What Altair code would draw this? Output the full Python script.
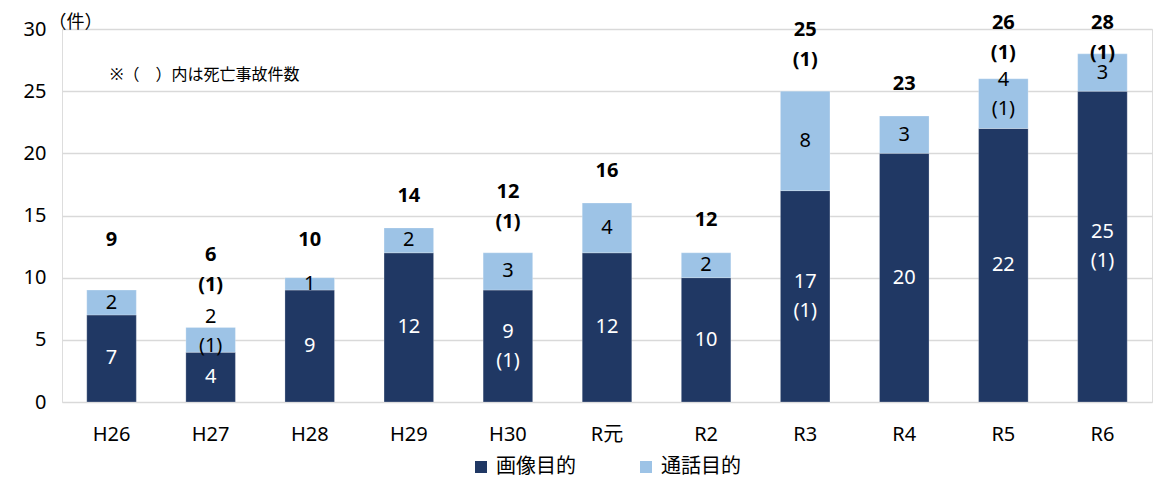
import altair as alt
import pandas as pd

years = ["H26", "H27", "H28", "H29", "H30", "R元", "R2", "R3", "R4", "R5", "R6"]
image_counts = [7, 4, 9, 12, 9, 12, 10, 17, 20, 22, 25]
image_deaths = [0, 0, 0, 0, 1, 0, 0, 1, 0, 0, 1]
call_counts = [2, 2, 1, 2, 3, 4, 2, 8, 3, 4, 3]
call_deaths = [0, 1, 0, 0, 0, 0, 0, 0, 0, 1, 0]
series = ["画像目的", "通話目的"]
colors = ["#203864", "#9DC3E6"]
text_colors = ["#FFFFFF", "#000000"]
note = "※（\u3000）内は死亡事故件数"
unit = "（件）"
FONT = "Noto Sans, Noto Sans CJK JP"
CJK = "Noto Sans CJK JP"
FS = 20

rows = []
for i, y in enumerate(years):
    lower = 0
    for k, (vals, deaths) in enumerate([(image_counts, image_deaths), (call_counts, call_deaths)]):
        v = vals[i]
        rows.append({
            "year": y, "series": series[k], "val": v, "lower": lower, "upper": lower + v,
            "deaths": deaths[i], "num": str(v), "dlabel": f"({deaths[i]})", "ord": k,
        })
        lower += v
seg = pd.DataFrame(rows)

tot = pd.DataFrame({
    "year": years,
    "total": [a + b for a, b in zip(image_counts, call_counts)],
    "deaths": [a + b for a, b in zip(image_deaths, call_deaths)],
})
tot["num"] = tot["total"].astype(str)
tot["dlabel"] = [f"({d})" for d in tot["deaths"]]

xenc = alt.X("year:N", sort=years, title=None,
             scale=alt.Scale(paddingInner=0.5, paddingOuter=0.25),
             axis=alt.Axis(labelAngle=0, labelFontSize=FS, labelFont=FONT, labelColor="#000000",
                           labelPadding=22, ticks=False, domain=False))

yscale = alt.Scale(domain=[0, 30])

bars = alt.Chart(seg).mark_bar(stroke="#ffffff", strokeWidth=0.6, strokeOpacity=0.4).encode(
    x=xenc,
    y=alt.Y("lower:Q", scale=yscale,
            axis=alt.Axis(values=[0, 5, 10, 15, 20, 25, 30], labelFontSize=FS, labelFont=FONT,
                          labelColor="#000000", labelPadding=16, ticks=False, domain=False,
                          grid=True, gridColor="#D9D9D9", gridWidth=1.5,
                          title=unit, titleAngle=0, titleFont=CJK, titleFontSize=18,
                          titleFontWeight="normal", titleAlign="left", titleBaseline="middle",
                          titleX=-14, titleY=-7, titleColor="#000000")),
    y2="upper:Q",
    color=alt.Color("series:N", scale=alt.Scale(domain=series, range=colors),
                    legend=alt.Legend(title=None, orient="none", direction="horizontal",
                                      legendX=409, legendY=428, labelFont=FONT, labelFontSize=FS,
                                      labelColor="#000000", symbolType="square", symbolSize=144,
                                      symbolStrokeWidth=0, columnPadding=60, labelOffset=5)),
)

seg_color = alt.Color("series:N", scale=alt.Scale(domain=series, range=text_colors), legend=None)

seg_num = alt.Chart(seg).transform_calculate(
    c="datum.lower + datum.val / 2 + (datum.deaths > 0 && datum.ord == 1 ? 0.7 : 0)",
    ny="datum.c + (datum.deaths > 0 ? 1.17 : 0)",
).mark_text(font=FONT, fontSize=FS, baseline="middle").encode(
    x=alt.X("year:N", sort=years),
    y=alt.Y("ny:Q", scale=yscale),
    text="num:N",
    color=seg_color,
)

seg_death = alt.Chart(seg).transform_filter("datum.deaths > 0").transform_calculate(
    c="datum.lower + datum.val / 2 + (datum.ord == 1 ? 0.7 : 0)",
    dy_="datum.c - 1.17",
).mark_text(font=FONT, fontSize=FS, baseline="middle").encode(
    x=alt.X("year:N", sort=years),
    y=alt.Y("dy_:Q", scale=yscale),
    text="dlabel:N",
    color=seg_color,
)

tot_num = alt.Chart(tot).transform_calculate(
    ny="datum.deaths > 0 ? min(max(datum.total + 4.9, 11.8), 30.5) : max(datum.total + 2.6, 13)"
).mark_text(font=FONT, fontSize=FS, fontWeight="bold", baseline="middle", color="#000000").encode(
    x=alt.X("year:N", sort=years),
    y=alt.Y("ny:Q", scale=yscale),
    text="num:N",
)

tot_death = alt.Chart(tot).transform_filter("datum.deaths > 0").transform_calculate(
    dy_="min(max(datum.total + 4.9, 11.8), 30.5) - 2.4"
).mark_text(font=FONT, fontSize=FS, fontWeight="bold", baseline="middle", color="#000000").encode(
    x=alt.X("year:N", sort=years),
    y=alt.Y("dy_:Q", scale=yscale),
    text="dlabel:N",
)

note_text = alt.Chart(pd.DataFrame({"t": [note]})).mark_text(
    font=FONT, fontSize=16, align="left", baseline="middle", color="#000000"
).encode(x=alt.value(48), y=alt.value(46), text="t:N")

chart = alt.layer(bars, seg_num, seg_death, tot_num, tot_death, note_text).resolve_scale(
    color="independent"
).properties(
    width=1090, height=373,
    autosize=alt.AutoSizeParams(type="none"),
    padding={"left": 54, "top": 21, "right": 3, "bottom": 78},
).configure_view(stroke=None).configure(background="#ffffff")

chart.save("out.html", embed_options={"renderer": "svg", "actions": False})
